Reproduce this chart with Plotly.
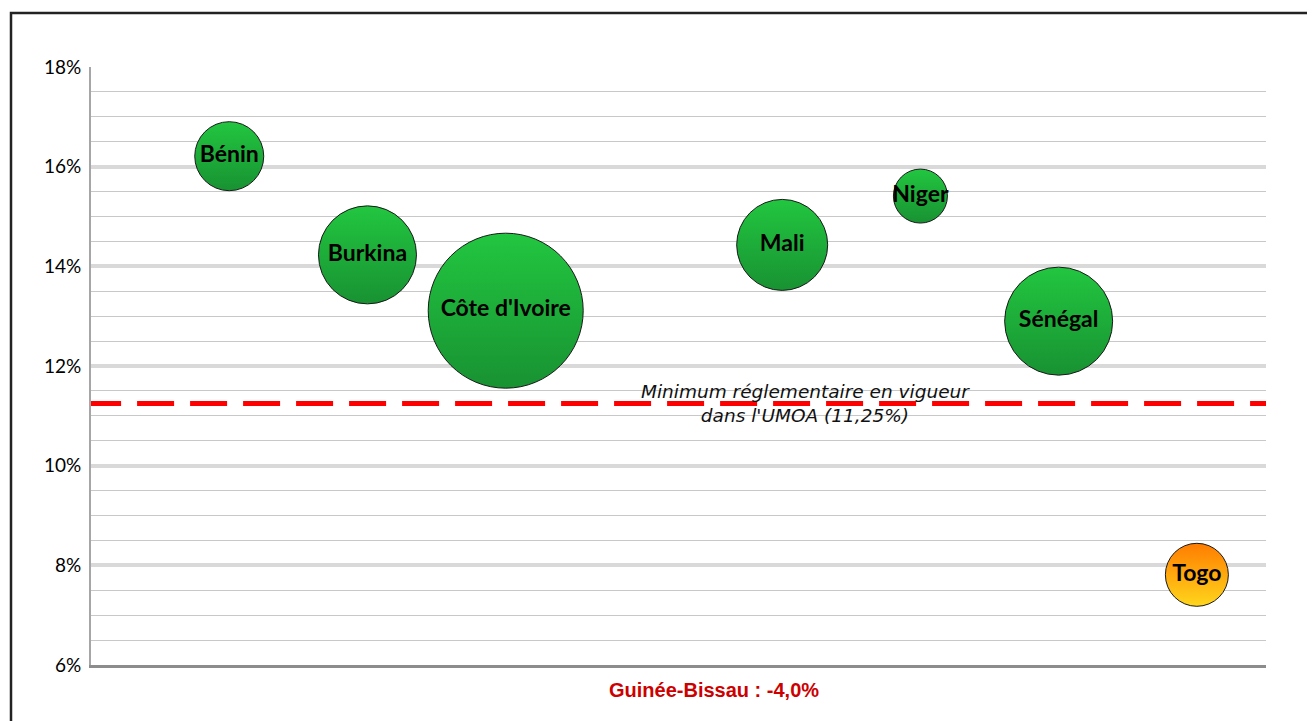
import plotly.graph_objects as go

countries = ["Bénin", "Burkina", "Côte d'Ivoire", "Mali", "Niger", "Sénégal", "Togo"]
x_pos = [1, 2, 3, 5, 6, 7, 8]
ratio = [16.21, 14.23, 13.11, 14.43, 15.41, 12.90, 7.81]
bubble = [69, 98, 155, 91, 54, 108, 63]
colors = ["#22c640"] * 6 + ["#ff7c00"]
grad_colors = ["#189232"] * 6 + ["#ffd61c"]
min_ratio = 11.25
min_label = "Minimum réglementaire en vigueur<br>dans l'UMOA (11,25%)"
gb_label = "Guinée-Bissau : -4,0%"
y_ticks = [6, 8, 10, 12, 14, 16, 18]
y_ticktext = [f"{v}%" for v in y_ticks]

# page-pixel geometry of plot area (body has 8px margin)
PX0, PX1, PY0, PY1 = 91, 1266, 67, 665

fig = go.Figure()

fig.add_trace(go.Scatter(
    x=[-0.05, 8.52], y=[min_ratio, min_ratio], mode="lines",
    line=dict(color="#ff0000", width=5, dash="37px,16px"),
    hoverinfo="skip", showlegend=False, cliponaxis=False,
))

fig.add_trace(go.Scatter(
    x=x_pos, y=ratio, mode="markers+text",
    text=countries, textposition="middle center",
    textfont=dict(family="Lato", size=23, color="#000000", weight="bold"),
    marker=dict(size=bubble, sizemode="diameter", color=colors, opacity=1,
                line=dict(color="#1a1a1a", width=1),
                gradient=dict(type="vertical", color=grad_colors)),
    showlegend=False, cliponaxis=False,
))

fig.add_annotation(x=5.17, y=min_ratio, text=min_label, showarrow=False,
                   font=dict(family="DejaVu Sans", size=18.5, color="#111111", style="italic"),
                   xanchor="center", yanchor="middle")

fig.add_annotation(xref="x domain", yref="paper", text=gb_label, showarrow=False,
                   x=(714 - PX0) / (PX1 - PX0), y=-(690 - PY1) / (PY1 - PY0),
                   xanchor="center", yanchor="middle",
                   font=dict(family="Liberation Sans", size=20, color="#cc0000", weight="bold"))

# outer frame (top and left edges visible)
fig.add_shape(type="rect", xref="paper", yref="paper",
              x0=(11 - PX0) / (PX1 - PX0), x1=(1340 - PX0) / (PX1 - PX0),
              y0=-(760 - PY1) / (PY1 - PY0), y1=(PY1 - 13) / (PY1 - PY0),
              line=dict(color="#222222", width=2.5), layer="below")

fig.update_layout(
    width=1315, height=713, autosize=False,
    margin=dict(l=83, r=57, t=59, b=56),
    paper_bgcolor="white", plot_bgcolor="white",
    font=dict(family="Lato", size=19, color="#000000"),
    xaxis=dict(range=[0, 8.5], showgrid=False, zeroline=False, showticklabels=False,
               showline=True, linecolor="#8c8c8c", linewidth=3, ticks=""),
    yaxis=dict(range=[6, 18], tickvals=y_ticks, ticktext=y_ticktext,
               showgrid=True, gridcolor="#d9d9d9", gridwidth=4,
               zeroline=False, showline=True, linecolor="#a6a6a6", linewidth=2,
               ticks="", ticklen=0, ticklabelstandoff=4,
               tickfont=dict(family="Lato", size=19, color="#000000"),
               minor=dict(dtick=0.5, tick0=6, showgrid=True, gridcolor="#c8c8c8", gridwidth=1.2)),
)

fig.write_html("out.html")
